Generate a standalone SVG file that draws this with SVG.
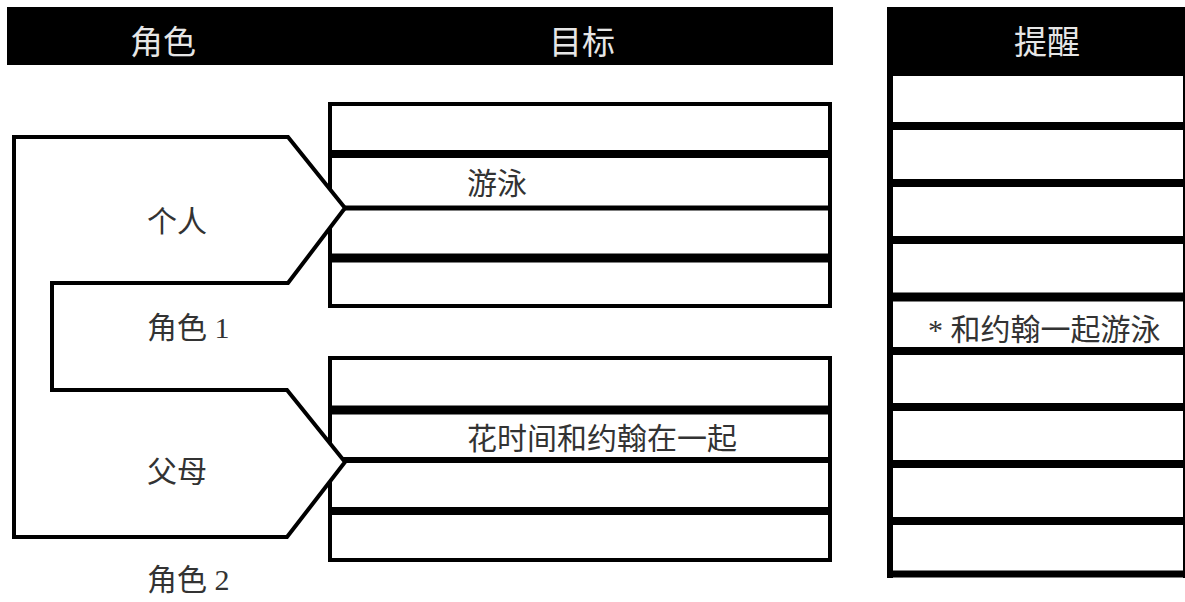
<svg xmlns="http://www.w3.org/2000/svg" width="1185" height="602" viewBox="0 0 1185 602">
<style>
.hdr{fill:#000}
.htxt{fill:#e6e6e6;font-family:"Liberation Serif","Noto Sans CJK SC",serif;font-size:33px;text-anchor:middle}
.txt{fill:#333;font-family:"Liberation Serif","Noto Sans CJK SC",serif;font-size:30px}
.box{fill:#fff;stroke:#000;stroke-width:4}
.ln{stroke:#000}
.shape{fill:#fff;stroke:#000;stroke-width:4;stroke-linejoin:miter}
</style>
<rect width="1185" height="602" fill="#fff"/>
<g id="header-left">
<rect class="hdr" x="7" y="7" width="826" height="58"/>
<text class="htxt" x="163" y="54">角色</text>
<text class="htxt" x="582" y="54">目标</text>
</g>
<g id="header-right">
<rect class="hdr" x="887" y="7" width="300" height="69"/>
<text class="htxt" x="1047" y="54">提醒</text>
</g>
<g id="goals-1">
<rect class="box" x="330" y="104" width="500" height="202"/>
<line class="ln" x1="330" y1="154" x2="830" y2="154" stroke-width="8"/>
<line class="ln" x1="330" y1="208" x2="830" y2="208" stroke-width="5"/>
<line class="ln" x1="330" y1="258" x2="830" y2="258" stroke-width="9"/>
<text class="txt" x="467" y="194" font-size="29">游泳</text>
</g>
<g id="goals-2">
<rect class="box" x="330" y="358" width="500" height="202"/>
<line class="ln" x1="330" y1="410" x2="830" y2="410" stroke-width="9"/>
<line class="ln" x1="330" y1="460" x2="830" y2="460" stroke-width="6"/>
<line class="ln" x1="330" y1="511" x2="830" y2="511" stroke-width="8"/>
<text class="txt" x="467" y="449" font-size="29">花时间和约翰在一起</text>
</g>
<g id="roles">
<path class="shape" d="M14,137 L288,137 L345,208 L288,283 L52,283 L52,390 L287,390 L345,462 L287,537 L14,537 Z"/>
</g>
<g id="role-1">
<text class="txt" x="147" y="232">个人</text>
<text class="txt" x="147" y="338">角色 1</text>
</g>
<g id="role-2">
<text class="txt" x="147" y="482">父母</text>
<text class="txt" x="147" y="590">角色 2</text>
</g>
<g id="reminders">
<line class="ln" x1="890" y1="70" x2="890" y2="578" stroke-width="6"/>
<line class="ln" x1="887" y1="574" x2="1185" y2="574" stroke-width="7"/>
<line class="ln" x1="1184" y1="76" x2="1184" y2="578" stroke-width="2"/>
<line class="ln" x1="887" y1="126" x2="1185" y2="126" stroke-width="8"/>
<line class="ln" x1="887" y1="183" x2="1185" y2="183" stroke-width="8"/>
<line class="ln" x1="887" y1="240" x2="1185" y2="240" stroke-width="8"/>
<line class="ln" x1="887" y1="297" x2="1185" y2="297" stroke-width="9"/>
<line class="ln" x1="887" y1="351" x2="1185" y2="351" stroke-width="8"/>
<line class="ln" x1="887" y1="407" x2="1185" y2="407" stroke-width="8"/>
<line class="ln" x1="887" y1="464" x2="1185" y2="464" stroke-width="8"/>
<line class="ln" x1="887" y1="521" x2="1185" y2="521" stroke-width="8"/>
<text class="txt" x="928" y="340" font-size="29">* 和约翰一起游泳</text>
</g>
</svg>
